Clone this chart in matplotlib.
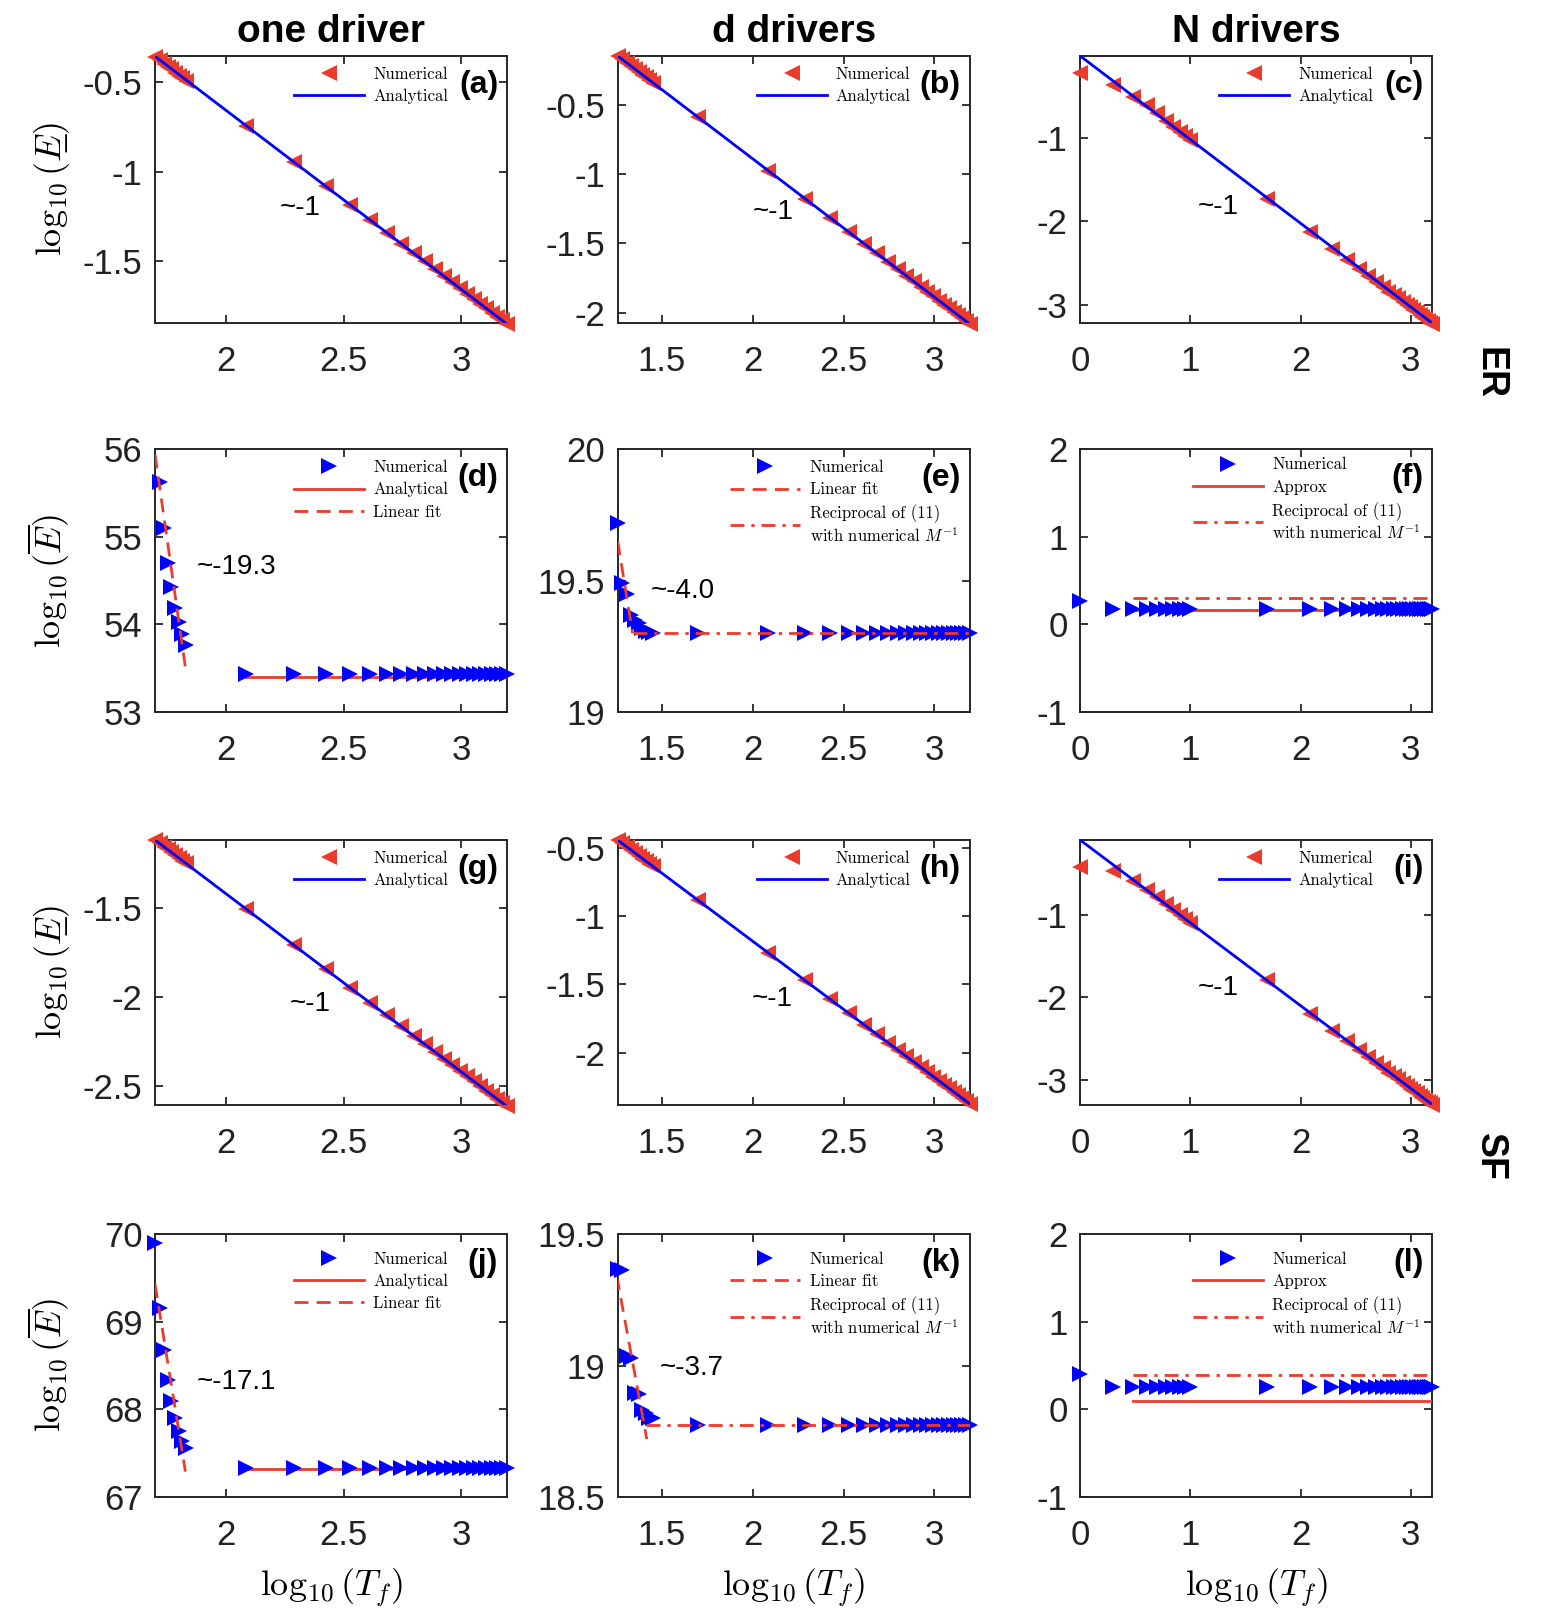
import matplotlib
matplotlib.use('Agg')
import matplotlib.pyplot as plt
from matplotlib.ticker import FormatStrFormatter

plt.rcParams['font.family'] = ['Liberation Sans', 'DejaVu Sans']
plt.rcParams['mathtext.fontset'] = 'cm'
plt.rcParams['axes.unicode_minus'] = False

RED = '#ec3a2b'
BLUE = '#0000ff'
AXC = '#262626'

## log10(Tf) positions
x_tail = [2.086, 2.288, 2.425, 2.529, 2.613, 2.683, 2.744, 2.797, 2.844, 2.886, 2.925,
          2.961, 2.994, 3.024, 3.053, 3.080, 3.105, 3.129, 3.152, 3.173, 3.194]
x_one_head = [1.699, 1.718, 1.736, 1.752, 1.768, 1.784, 1.799, 1.814, 1.829]
x_d_head = [1.258, 1.283, 1.307, 1.330, 1.352, 1.373, 1.394, 1.413, 1.432, 1.450, 1.699]
x_N_head = [0, 0.301, 0.477, 0.602, 0.699, 0.778, 0.845, 0.903, 0.954, 1.0, 1.699]

## ER, lower bound
ya = [-0.36, -0.38, -0.40, -0.415, -0.43, -0.45, -0.465, -0.48, -0.495,
      -0.744, -0.946, -1.083, -1.187, -1.271, -1.341, -1.402, -1.455, -1.502, -1.544, -1.583,
      -1.619, -1.652, -1.682, -1.711, -1.738, -1.763, -1.787, -1.810, -1.831, -1.852]
yb = [-0.147, -0.172, -0.196, -0.219, -0.241, -0.262, -0.283, -0.302, -0.321, -0.339, -0.588,
      -0.975, -1.177, -1.314, -1.418, -1.502, -1.572, -1.633, -1.686, -1.733, -1.775,
      -1.814, -1.850, -1.883, -1.913, -1.942, -1.969, -1.994, -2.018, -2.041, -2.062, -2.083]
yc = [-0.23, -0.37, -0.51, -0.61, -0.71, -0.80, -0.87, -0.93, -0.98, -1.03, -1.73,
      -2.125, -2.33, -2.46, -2.57, -2.65, -2.72, -2.78, -2.84, -2.88, -2.92,
      -2.96, -3.00, -3.03, -3.06, -3.09, -3.12, -3.14, -3.17, -3.19, -3.21, -3.23]
ana_a = ([1.699, 3.194], [-0.357, -1.852])
ana_b = ([1.258, 3.194], [-0.147, -2.083])
ana_c = ([0, 3.194], [-0.024, -3.218])

## ER, upper bound
yd = [55.63, 55.10, 54.70, 54.43, 54.19, 54.03, 53.89, 53.77,
      53.43, 53.43, 53.43, 53.43, 53.43, 53.43, 53.43, 53.43, 53.43, 53.43, 53.43,
      53.43, 53.43, 53.43, 53.43, 53.43, 53.43, 53.43, 53.43, 53.43, 53.43]
ye = [19.72, 19.49, 19.45, 19.37, 19.35, 19.34, 19.32, 19.31, 19.305, 19.30, 19.30,
      19.30, 19.30, 19.30, 19.30, 19.30, 19.30, 19.30, 19.30, 19.30, 19.30,
      19.30, 19.30, 19.30, 19.30, 19.30, 19.30, 19.30, 19.30, 19.30, 19.30, 19.30]
yf = [0.27, 0.18, 0.175, 0.175, 0.175, 0.175, 0.175, 0.175, 0.175, 0.175, 0.175,
      0.175, 0.175, 0.175, 0.175, 0.175, 0.175, 0.175, 0.175, 0.175, 0.175,
      0.175, 0.175, 0.175, 0.175, 0.175, 0.175, 0.175, 0.175, 0.175, 0.175, 0.175]
ana_d = ([2.086, 3.194], [53.40, 53.40])
fit_d = ([1.699, 1.830], [55.94, 53.47])
fit_e = ([1.258, 1.340], [19.65, 19.30])
rec_e = ([1.340, 3.194], [19.302, 19.302])
app_f = ([0.477, 3.194], [0.165, 0.165])
rec_f = ([0.477, 3.194], [0.305, 0.305])

## SF, lower bound
yg = [-1.118, -1.137, -1.155, -1.171, -1.187, -1.203, -1.218, -1.233, -1.248,
      -1.505, -1.707, -1.844, -1.948, -2.032, -2.102, -2.163, -2.216, -2.263, -2.305, -2.344,
      -2.380, -2.413, -2.443, -2.472, -2.499, -2.524, -2.548, -2.571, -2.592, -2.613]
yh = [-0.44, -0.465, -0.489, -0.512, -0.534, -0.555, -0.576, -0.595, -0.614, -0.632, -0.881,
      -1.268, -1.470, -1.607, -1.711, -1.795, -1.865, -1.926, -1.979, -2.026, -2.068,
      -2.107, -2.143, -2.176, -2.206, -2.235, -2.262, -2.287, -2.311, -2.334, -2.355, -2.376]
yi = [-0.425, -0.475, -0.60, -0.70, -0.79, -0.87, -0.94, -1.00, -1.05, -1.10, -1.79,
      -2.20, -2.40, -2.53, -2.64, -2.72, -2.79, -2.85, -2.91, -2.95, -2.99,
      -3.03, -3.07, -3.10, -3.13, -3.16, -3.19, -3.21, -3.24, -3.26, -3.28, -3.30]
ana_g = ([1.699, 3.194], [-1.118, -2.613])
ana_h = ([1.258, 3.194], [-0.44, -2.376])
ana_i = ([0, 3.194], [-0.10, -3.294])

## SF, upper bound
yj = [69.90, 69.16, 68.68, 68.33, 68.09, 67.90, 67.75, 67.64, 67.56,
      67.33, 67.33, 67.33, 67.33, 67.33, 67.33, 67.33, 67.33, 67.33, 67.33, 67.33,
      67.33, 67.33, 67.33, 67.33, 67.33, 67.33, 67.33, 67.33, 67.33, 67.33]
yk = [19.366, 19.362, 19.035, 19.03, 18.895, 18.89, 18.83, 18.82, 18.80, 18.80, 18.775,
      18.775, 18.775, 18.775, 18.775, 18.775, 18.775, 18.775, 18.775, 18.775, 18.775,
      18.775, 18.775, 18.775, 18.775, 18.775, 18.775, 18.775, 18.775, 18.775, 18.775, 18.775]
yl = [0.40, 0.26, 0.255, 0.25, 0.25, 0.25, 0.25, 0.25, 0.25, 0.25, 0.25,
      0.25, 0.25, 0.25, 0.25, 0.25, 0.25, 0.25, 0.25, 0.25, 0.25,
      0.25, 0.25, 0.25, 0.25, 0.25, 0.25, 0.25, 0.25, 0.25, 0.25, 0.25]
ana_j = ([2.086, 3.194], [67.32, 67.32])
fit_j = ([1.699, 1.828], [69.43, 67.29])
fit_k = ([1.253, 1.418], [19.34, 18.72])
rec_k = ([1.413, 3.194], [18.775, 18.775])
app_l = ([0.477, 3.194], [0.095, 0.095])
rec_l = ([0.477, 3.194], [0.39, 0.39])

col_titles = ['one driver', 'd drivers', 'N drivers']
panel_tags = ['(a)', '(b)', '(c)', '(d)', '(e)', '(f)', '(g)', '(h)', '(i)', '(j)', '(k)', '(l)']
slopes = ['~-1', '~-1', '~-1', '~-19.3', '~-4.0', None, '~-1', '~-1', '~-1', '~-17.1', '~-3.7', None]
rec_label = 'Reciprocal of (11)\nwith numerical $M^{-1}$'


def underline_ok():
    f = plt.figure()
    try:
        f.text(0, 0, r'$\underline{E}$')
        f.canvas.draw()
        return True
    except Exception:
        return False
    finally:
        plt.close(f)


if underline_ok():
    lab_low = r'$\log_{10}(\underline{E})$'
else:
    lab_low = r'$\log_{10}(E̲)$'
lab_up = r'$\log_{10}(\overline{E})$'

fig = plt.figure(figsize=(15.52, 16.22), dpi=100)
lefts = [0.0999, 0.398, 0.696]
bottoms = [0.8009, 0.561, 0.3187, 0.0771]
heights = [0.1646, 0.162, 0.1634, 0.162]
W = 0.2268

axes = []
for r in range(4):
    for c in range(3):
        axes.append(fig.add_axes([lefts[c], bottoms[r], W, heights[r]]))

leg_font = {'family': 'cmr10', 'size': 12}


def style(ax, xl, yl, xt, yt):
    ax.set_xlim(xl)
    ax.set_ylim(yl)
    ax.set_xticks(xt)
    ax.set_yticks(yt)
    ax.xaxis.set_major_formatter(FormatStrFormatter('%g'))
    ax.yaxis.set_major_formatter(FormatStrFormatter('%g'))
    ax.tick_params(direction='in', top=True, right=True, length=6, width=1.3,
                   labelsize=25, colors=AXC, labelcolor='#222222')
    ax.tick_params(axis='x', pad=16)
    ax.tick_params(axis='y', pad=9)
    for s in ax.spines.values():
        s.set_linewidth(1.4)
        s.set_color(AXC)


def numerical(ax, x, y, marker, color):
    h, = ax.plot(x, y, linestyle='none', marker=marker, color=color, ms=12,
                 markeredgewidth=0, clip_on=False, zorder=4)
    return h


def legend(ax, handles, labels, hx, hy):
    ax.legend(handles, labels, loc='upper left', bbox_to_anchor=(hx, hy), frameon=False,
              prop=leg_font, handlelength=4.2, handletextpad=0.55, labelspacing=0.42,
              borderpad=0, borderaxespad=0, numpoints=1)


x_one = x_one_head + x_tail
x_d = x_d_head + x_tail
x_N = x_N_head + x_tail

lower = [(ya, x_one, ana_a), (yb, x_d, ana_b), (yc, x_N, ana_c),
         (yg, x_one, ana_g), (yh, x_d, ana_h), (yi, x_N, ana_i)]
lower_axes = [axes[0], axes[1], axes[2], axes[6], axes[7], axes[8]]
for ax, (yy, xx, ana) in zip(lower_axes, lower):
    hl, = ax.plot(ana[0], ana[1], color=BLUE, lw=2, zorder=5)
    hn = numerical(ax, xx, yy, '<', RED)
    legend(ax, [hn, hl], ['Numerical', 'Analytical'], 0.395, 0.96)

dash = (0, (5, 3))
dashdot = (0, (5, 2.5, 1.2, 2.5))

# one driver, upper bound
for ax, yy, x, ana, fit in [(axes[3], yd, x_one[1:], ana_d, fit_d),
                            (axes[9], yj, x_one, ana_j, fit_j)]:
    hn = numerical(ax, x, yy, '>', BLUE)
    ha, = ax.plot(ana[0], ana[1], color=RED, lw=2, zorder=3)
    hf, = ax.plot(fit[0], fit[1], color=RED, lw=2, linestyle=dash, zorder=5)
    legend(ax, [hn, ha, hf], ['Numerical', 'Analytical', 'Linear fit'], 0.395,
           0.96 if ax is axes[3] else 0.935)

# d drivers, upper bound
for ax, yy, fit, rec in [(axes[4], ye, fit_e, rec_e), (axes[10], yk, fit_k, rec_k)]:
    hn = numerical(ax, x_d, yy, '>', BLUE)
    hf, = ax.plot(fit[0], fit[1], color=RED, lw=2, linestyle=dash, zorder=5)
    hr, = ax.plot(rec[0], rec[1], color=RED, lw=2, linestyle=dashdot, zorder=5)
    legend(ax, [hn, hf, hr], ['Numerical', 'Linear fit', rec_label], 0.32,
           0.96 if ax is axes[4] else 0.935)

# N drivers, upper bound
for ax, yy, app, rec in [(axes[5], yf, app_f, rec_f), (axes[11], yl, app_l, rec_l)]:
    hn = numerical(ax, x_N, yy, '>', BLUE)
    ha, = ax.plot(app[0], app[1], color=RED, lw=2, zorder=3)
    hr, = ax.plot(rec[0], rec[1], color=RED, lw=2, linestyle=dashdot, zorder=3)
    legend(ax, [hn, ha, hr], ['Numerical', 'Approx', rec_label], 0.32,
           0.97 if ax is axes[5] else 0.935)

xl = [(1.699, 3.194), (1.258, 3.194), (0, 3.194)]
xt = [[2, 2.5, 3], [1.5, 2, 2.5, 3], [0, 1, 2, 3]]
ylims = [(-1.845, -0.355), (-2.075, -0.147), (-3.215, -0.024),
         (53, 56), (19, 20), (-1, 2),
         (-2.605, -1.118), (-2.385, -0.44), (-3.30, -0.10),
         (67, 70), (18.5, 19.5), (-1, 2)]
yticks = [[-1.5, -1, -0.5], [-2, -1.5, -1, -0.5], [-3, -2, -1],
          [53, 54, 55, 56], [19, 19.5, 20], [-1, 0, 1, 2],
          [-2.5, -2, -1.5], [-2, -1.5, -1, -0.5], [-3, -2, -1],
          [67, 68, 69, 70], [18.5, 19, 19.5], [-1, 0, 1, 2]]
slope_pos = [(0.353, 0.431), (0.384, 0.416), (0.335, 0.434),
             (0.119, 0.551), (0.095, 0.462), None,
             (0.383, 0.381), (0.381, 0.40), (0.335, 0.442),
             (0.119, 0.437), (0.119, 0.49), None]

for k, ax in enumerate(axes):
    c = k % 3
    style(ax, xl[c], ylims[k], xt[c], yticks[k])
    ax.text(0.975, 0.89, panel_tags[k], transform=ax.transAxes, ha='right', va='center',
            fontsize=23, fontweight='bold', zorder=6)
    if slopes[k]:
        ax.text(slope_pos[k][0], slope_pos[k][1], slopes[k], transform=ax.transAxes,
                ha='left', va='center', fontsize=20)
    if c == 0:
        ax.set_ylabel(lab_low if (k // 3) % 2 == 0 else lab_up, fontsize=26)
        ax.yaxis.set_label_coords(-0.235, 0.5)
    if k >= 9:
        ax.set_xlabel(r'$\log_{10}(T_f)$', fontsize=26)
        ax.xaxis.set_label_coords(0.5, -0.265)

for c in range(3):
    fig.text(lefts[c] + W / 2, 0.9805, col_titles[c], ha='center', va='center',
             fontsize=28, fontweight='bold')

fig.text(0.96, 0.77, 'ER', rotation=-90, ha='center', va='center', fontsize=27, fontweight='bold')
fig.text(0.96, 0.2867, 'SF', rotation=-90, ha='center', va='center', fontsize=27, fontweight='bold')

fig.savefig('out.png', dpi=100)
